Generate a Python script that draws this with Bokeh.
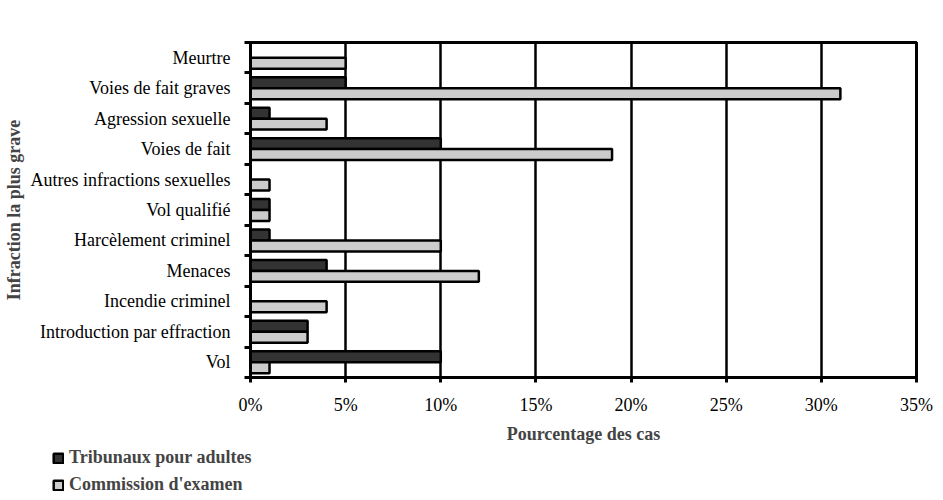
from bokeh.plotting import figure
from bokeh.layouts import column, row
from bokeh.models import (ColumnDataSource, FactorRange, Range1d, LinearAxis, CategoricalAxis,
                          FixedTicker, PrintfTickFormatter, Legend, LegendItem, CustomLabelingPolicy)
from bokeh.transform import dodge
from bokeh.embed import file_html
from bokeh.resources import INLINE

categories = ["Meurtre", "Voies de fait graves", "Agression sexuelle", "Voies de fait",
              "Autres infractions sexuelles", "Vol qualifié", "Harcèlement criminel",
              "Menaces", "Incendie criminel", "Introduction par effraction", "Vol"]
tribunaux = [0, 5, 1, 10, 0, 1, 1, 4, 0, 3, 10]
commission = [5, 31, 4, 19, 1, 1, 10, 12, 4, 3, 1]
x_ticks = [0, 5, 10, 15, 20, 25, 30, 35]
series_names = ["Tribunaux pour adultes", "Commission d'examen"]
series_colors = ["#333333", "#cccccc"]

FONT = "Liberation Serif"

source = ColumnDataSource(dict(cat=categories, trib=tribunaux, comm=commission))

y_range = FactorRange(factors=list(reversed(categories)), range_padding=0)
x_range = Range1d(0, 35)
p = figure(width=943, height=446, y_range=y_range, x_range=x_range,
           output_backend="svg", toolbar_location=None, y_axis_location=None,
           min_border_left=249, min_border_right=27, min_border_top=42, min_border_bottom=64)

bar_style = dict(left=0, height=0.36, source=source, line_color="black", line_width=2.5)
r1 = p.hbar(y=dodge("cat", 0.18, range=y_range), right="trib", fill_color=series_colors[0], **bar_style)
r2 = p.hbar(y=dodge("cat", -0.18, range=y_range), right="comm", fill_color=series_colors[1], **bar_style)

p.outline_line_color = "black"
p.outline_line_width = 3
p.background_fill_color = "white"

# x axis
xa = p.xaxis[0]
xa.ticker = FixedTicker(ticks=x_ticks)
xa.formatter = PrintfTickFormatter(format="%d%%")
xa.axis_line_width = 3
xa.axis_line_color = "black"
xa.major_tick_line_width = 3
xa.major_tick_out = 5
xa.major_tick_in = 0
xa.minor_tick_line_color = None
xa.major_label_standoff = 12
xa.major_label_text_font = FONT
xa.major_label_text_font_size = "18px"
xa.major_label_text_color = "black"
xa.axis_label = "Pourcentage des cas"
xa.axis_label_text_font = FONT
xa.axis_label_text_font_style = "bold"
xa.axis_label_text_font_size = "18px"
xa.axis_label_standoff = 6

# y axes: boundary ticks (between categories, no labels) + category labels
no_labels = CustomLabelingPolicy(code="for (const i of indices) indices.unset(i); return indices;")
tick_axis = LinearAxis(ticker=FixedTicker(ticks=list(range(len(categories) + 1))),
                       major_label_policy=no_labels, major_label_text_font_size="1px",
                       major_label_standoff=0,
                       major_tick_out=6, major_tick_in=0, major_tick_line_width=3,
                       minor_tick_line_color=None, axis_line_width=3, axis_line_color="black")
cat_axis = CategoricalAxis(major_tick_line_color=None, axis_line_color=None,
                           major_label_standoff=4, major_label_text_font=FONT,
                           major_label_text_font_size="18px", major_label_text_color="black",
                           axis_label="Infraction la plus grave", axis_label_text_font=FONT,
                           axis_label_text_font_style="bold", axis_label_text_font_size="18px",
                           axis_label_standoff=4)
p.add_layout(tick_axis, "left")
p.add_layout(cat_axis, "left")

p.xgrid.ticker = FixedTicker(ticks=x_ticks)
p.xgrid.grid_line_color = "black"
p.xgrid.grid_line_width = 2.5
p.ygrid.grid_line_color = None

# legend strip below the chart
lf = figure(width=943, height=54, y_range=y_range, x_range=x_range,
            output_backend="svg", toolbar_location=None, x_axis_location=None, y_axis_location=None,
            min_border=0, outline_line_color=None)
lf.xgrid.grid_line_color = None
lf.ygrid.grid_line_color = None
l1 = lf.hbar(y=dodge("cat", 0.18, range=y_range), right="trib", fill_color=series_colors[0],
             visible=False, **bar_style)
l2 = lf.hbar(y=dodge("cat", -0.18, range=y_range), right="comm", fill_color=series_colors[1],
             visible=False, **bar_style)
legend = Legend(items=[LegendItem(label=series_names[0], renderers=[l1]),
                       LegendItem(label=series_names[1], renderers=[l2])],
                location=(52, 5), orientation="vertical",
                label_text_font=FONT, label_text_font_style="bold", label_text_font_size="18px",
                glyph_width=12, glyph_height=12, label_height=20, spacing=6, padding=0, margin=0,
                label_standoff=5, border_line_color=None, background_fill_alpha=0,
                inactive_fill_alpha=0)
lf.add_layout(legend, "center")

layout = column(p, row(lf), spacing=0)
open("out.html", "w").write(file_html(layout, INLINE))
